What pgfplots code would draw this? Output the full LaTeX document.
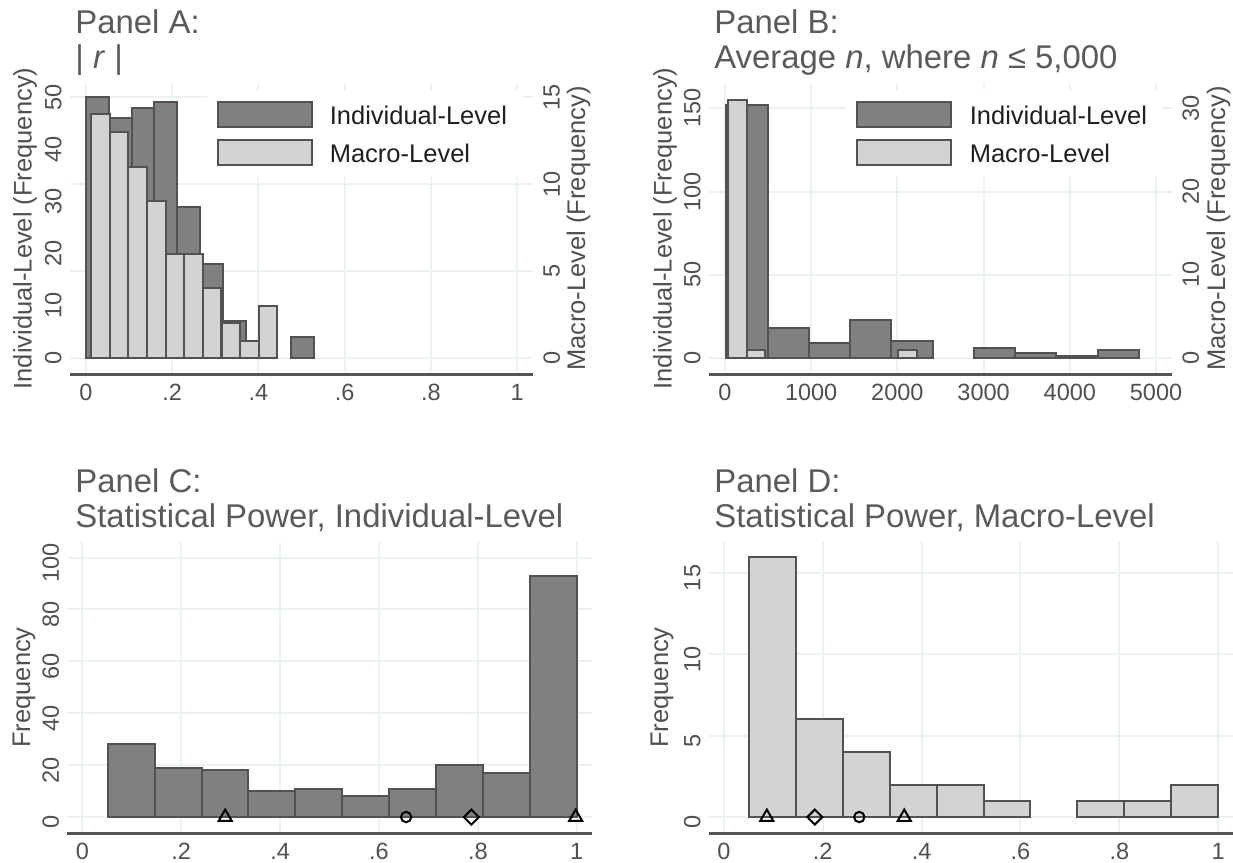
\documentclass[border=0pt]{standalone}
\usepackage{fontspec}
\setmainfont{Liberation Sans}
\usepackage{pgfplots}
\pgfplotsset{compat=1.18}

\definecolor{darkbar}{RGB}{128,128,128}
\definecolor{lightbar}{RGB}{211,211,211}
\definecolor{edge}{RGB}{82,82,82}
\definecolor{gridc}{RGB}{234,242,243}
\definecolor{axisc}{RGB}{85,85,85}
\definecolor{labc}{RGB}{80,80,80}
\definecolor{titc}{RGB}{90,90,90}

\newcommand{\tickfont}{\fontsize{11.8}{13}\selectfont}
\newcommand{\labfont}{\fontsize{12.8}{14}\selectfont}
\newcommand{\titfont}{\fontsize{16.5}{18}\selectfont}

\pgfplotsset{
  stbase/.style={
    scale only axis, height=145.5bp, enlargelimits=false,
    tick style={draw=none}, major tick length=0pt,
    major grid style={draw=gridc, line width=1bp},
    /pgf/number format/assume math mode=true,
  },
  stL/.style={
    stbase,
    axis x line*=bottom, axis y line*=left,
    x axis line style={draw=axisc, line width=1.5bp},
    y axis line style={draw=none},
    xticklabel style={font=\tickfont, text=labc, inner sep=0pt, anchor=north, yshift=-5bp},
    yticklabel style={font=\tickfont, text=labc, inner sep=0pt, xshift=-4bp, rotate=90, anchor=south},
  },
  stR/.style={
    stbase,
    axis x line=none, axis y line*=right,
    y axis line style={draw=none},
    xtick=\empty,
    yticklabel style={font=\tickfont, text=labc, inner sep=0pt, xshift=5bp, rotate=90, anchor=north},
  },
  darkhist/.style={ybar, bar shift=0pt, fill=darkbar, draw=edge, line width=1bp},
  lighthist/.style={ybar, bar shift=0pt, fill=lightbar, draw=edge, line width=1bp},
}

\begin{document}
\begin{tikzpicture}
\path[use as bounding box] (0bp,0bp) rectangle (616.5bp,-431.5bp);

% ---------------- Panel A ----------------
\begin{axis}[stL, at={(35bp,-187bp)}, anchor=south west, width=231.5bp,
  xmin=-0.037, xmax=1.037, ymin=-3.07, ymax=52.7,
  xtick={0,0.2,0.4,0.6,0.8,1}, xticklabels={0,.2,.4,.6,.8,1},
  ytick={0,10,20,30,40,50}, yticklabels={0,10,20,30,40,50},
  xmajorgrids=true, ymajorgrids=false,
  extra y ticks={0,16.6667,33.3333,50}, extra y tick labels={},
  extra y tick style={ymajorgrids=true}]
\addplot[darkhist, bar width=0.0529] coordinates {
  (0.02645,50) (0.07935,46) (0.13225,48) (0.18515,49) (0.23805,29)
  (0.29095,18) (0.34385,7) (0.50255,4)};
\end{axis}
\begin{axis}[stR, at={(35bp,-187bp)}, anchor=south west, width=231.5bp,
  xmin=-0.037, xmax=1.037, ymin=-0.921, ymax=15.81,
  ytick={0,5,10,15}, yticklabels={0,5,10,15}]
\addplot[lighthist, bar width=0.04315] coordinates {
  (0.0339,14) (0.0771,13) (0.1202,11) (0.1634,9) (0.2065,6)
  (0.2497,6) (0.2928,4) (0.3360,2) (0.3791,1) (0.4223,3)};
\end{axis}

% ---------------- Panel B ----------------
\begin{axis}[stL, at={(354.5bp,-187bp)}, anchor=south west, width=231.5bp,
  xmin=-185, xmax=5185, ymin=-9.6, ymax=165.2,
  xtick={0,1000,2000,3000,4000,5000}, xticklabels={0,1000,2000,3000,4000,5000},
  ytick={0,50,100,150}, yticklabels={0,50,100,150},
  xmajorgrids=true, ymajorgrids=true]
\addplot[darkhist, bar width=478.4] coordinates {
  (255.2,152) (733.6,18) (1212,9) (1690.4,23) (2168.8,10)
  (3125.6,6) (3604,3) (4082.4,1) (4560.8,5)};
\end{axis}
\begin{axis}[stR, at={(354.5bp,-187bp)}, anchor=south west, width=231.5bp,
  xmin=-185, xmax=5185, ymin=-1.92, ymax=33.04,
  ytick={0,10,20,30}, yticklabels={0,10,20,30}]
\addplot[lighthist, bar width=220] coordinates {
  (140,31) (360,1) (2120,1)};
\end{axis}

% ---------------- Panel C ----------------
\begin{axis}[stL, at={(33.75bp,-416.5bp)}, anchor=south west, width=262bp,
  xmin=-0.03, xmax=1.03, ymin=-6.15, ymax=106,
  xtick={0,0.2,0.4,0.6,0.8,1}, xticklabels={0,.2,.4,.6,.8,1},
  ytick={0,20,40,60,80,100}, yticklabels={0,20,40,60,80,100},
  yticklabel style={xshift=-2.5bp},
  xmajorgrids=true, ymajorgrids=true]
\addplot[darkhist, bar width=0.09484] coordinates {
  (0.0990,28) (0.1938,19) (0.2887,18) (0.3835,10) (0.4783,11)
  (0.5732,8) (0.6680,11) (0.7629,20) (0.8577,17) (0.9526,93)};
\addplot[only marks, mark=triangle, mark size=3.75bp, black, line width=1bp]
  coordinates {(0.289,0) (0.998,0)};
\addplot[only marks, mark=o, mark size=2.6bp, black, line width=1bp]
  coordinates {(0.655,0)};
\addplot[only marks, mark=square, mark options={rotate=45}, mark size=2.65bp, black, line width=1bp]
  coordinates {(0.787,0)};
\end{axis}

% ---------------- Panel D ----------------
\begin{axis}[stL, at={(354.5bp,-416.5bp)}, anchor=south west, width=262bp,
  xmin=-0.03, xmax=1.03, ymin=-0.98, ymax=16.9,
  xtick={0,0.2,0.4,0.6,0.8,1}, xticklabels={0,.2,.4,.6,.8,1},
  ytick={0,5,10,15}, yticklabels={0,5,10,15},
  yticklabel style={xshift=-2.5bp},
  xmajorgrids=true, ymajorgrids=true]
\addplot[lighthist, bar width=0.09494] coordinates {
  (0.0981,16) (0.1930,6) (0.2880,4) (0.3829,2) (0.4778,2)
  (0.5728,1) (0.7626,1) (0.8576,1) (0.9525,2)};
\addplot[only marks, mark=triangle, mark size=3.75bp, black, line width=1bp]
  coordinates {(0.087,0) (0.365,0)};
\addplot[only marks, mark=o, mark size=2.6bp, black, line width=1bp]
  coordinates {(0.274,0)};
\addplot[only marks, mark=square, mark options={rotate=45}, mark size=2.65bp, black, line width=1bp]
  coordinates {(0.184,0)};
\end{axis}

% ---------------- legends ----------------
\fill[white] (103.5bp,-45bp) rectangle (261.5bp,-88.5bp);
\draw[fill=darkbar, draw=edge, line width=1bp] (109.2bp,-50.85bp) rectangle (156.2bp,-63.35bp);
\draw[fill=lightbar, draw=edge, line width=1bp] (109.2bp,-70bp) rectangle (156.2bp,-82.5bp);
\node[anchor=base west, inner sep=0pt, font=\labfont, text=black!88] at (164.7bp,-62.15bp) {Individual-Level};
\node[anchor=base west, inner sep=0pt, font=\labfont, text=black!88] at (164.7bp,-81.15bp) {Macro-Level};

\fill[white] (423bp,-45bp) rectangle (581bp,-88.5bp);
\draw[fill=darkbar, draw=edge, line width=1bp] (428.3bp,-50.85bp) rectangle (475.5bp,-63.35bp);
\draw[fill=lightbar, draw=edge, line width=1bp] (428.3bp,-70bp) rectangle (475.5bp,-82.5bp);
\node[anchor=base west, inner sep=0pt, font=\labfont, text=black!88] at (484.7bp,-62.15bp) {Individual-Level};
\node[anchor=base west, inner sep=0pt, font=\labfont, text=black!88] at (484.7bp,-81.15bp) {Macro-Level};

% ---------------- axis titles ----------------
\node[rotate=90, inner sep=0pt, font=\labfont, text=labc] at (12.5bp,-114.25bp) {Individual-Level (Frequency)};
\node[rotate=90, inner sep=0pt, font=\labfont, text=labc] at (289.25bp,-114.25bp) {Macro-Level (Frequency)};
\node[rotate=90, inner sep=0pt, font=\labfont, text=labc] at (332.5bp,-114.25bp) {Individual-Level (Frequency)};
\node[rotate=90, inner sep=0pt, font=\labfont, text=labc] at (609.2bp,-114.25bp) {Macro-Level (Frequency)};
\node[rotate=90, inner sep=0pt, font=\labfont, text=labc] at (12bp,-343.75bp) {Frequency};
\node[rotate=90, inner sep=0pt, font=\labfont, text=labc] at (331bp,-343.75bp) {Frequency};

% ---------------- panel titles ----------------
\node[anchor=base west, inner sep=0pt, font=\titfont, text=titc] at (37.5bp,-16.65bp) {Panel A:};
\node[anchor=base west, inner sep=0pt, font=\titfont, text=titc] at (37.5bp,-34.15bp) {| \textit{r} |};
\node[anchor=base west, inner sep=0pt, font=\titfont, text=titc] at (357bp,-16.65bp) {Panel B:};
\node[anchor=base west, inner sep=0pt, font=\titfont, text=titc] at (357bp,-34.15bp) {Average \textit{n}, where \textit{n} ≤ 5,000};
\node[anchor=base west, inner sep=0pt, font=\titfont, text=titc] at (37.5bp,-246bp) {Panel C:};
\node[anchor=base west, inner sep=0pt, font=\titfont, text=titc] at (37.5bp,-263.5bp) {Statistical Power, Individual-Level};
\node[anchor=base west, inner sep=0pt, font=\titfont, text=titc] at (357bp,-246bp) {Panel D:};
\node[anchor=base west, inner sep=0pt, font=\titfont, text=titc] at (357bp,-263.5bp) {Statistical Power, Macro-Level};
\end{tikzpicture}
\end{document}
